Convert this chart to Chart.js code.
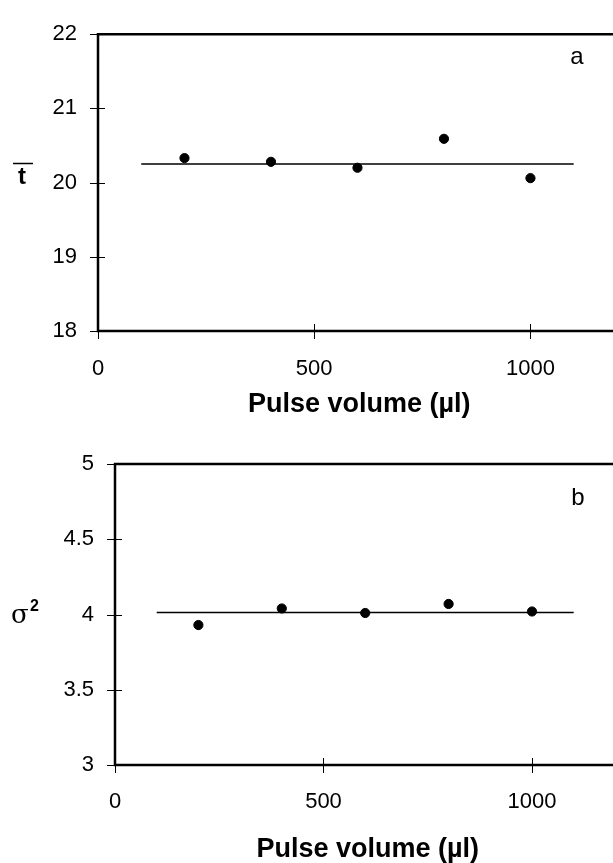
<!DOCTYPE html>
<html>
<head>
<meta charset="utf-8">
<script src="https://cdn.jsdelivr.net/npm/chart.js@4.4.1/dist/chart.umd.min.js"></script>
<style>
  html, body { margin: 0; background: #fff; overflow: hidden; }
  .panel { position: absolute; left: 0; width: 626px; }
</style>
</head>
<body>
<div class="panel" style="top:0;height:420px"><canvas id="chartA" width="626" height="420"></canvas></div>
<div class="panel" style="top:420px;height:443px"><canvas id="chartB" width="626" height="443"></canvas></div>
<script>
// pulse volumes (ul)
var volumes = [200, 400, 600, 800, 1000];
// panel a: mean residence time
var meanT = [20.33, 20.28, 20.20, 20.59, 20.06];
var meanTFit = 20.25;
// panel b: variance
var variance = [3.93, 4.04, 4.01, 4.07, 4.02];
var varianceFit = 4.013;
var fitRange = [100, 1100];
var xTicks = [0, 500, 1000];
var yTicksA = [18, 19, 20, 21, 22];
var yTicksB = [3, 3.5, 4, 4.5, 5];

Chart.defaults.font.family = '"Liberation Sans", Arial, sans-serif';
Chart.defaults.color = '#000';

function toPoints(xs, ys) {
    return xs.map(function (x, i) { return { x: x, y: ys[i] }; });
}

// frame on top/left/bottom plus ticks that cross the axes
var framePlugin = {
    id: 'frame',
    afterDraw: function (chart, args, opts) {
        var ctx = chart.ctx;
        var a = chart.chartArea;
        var xs = chart.scales.x, ys = chart.scales.y;
        ctx.save();
        ctx.strokeStyle = '#000';
        ctx.lineWidth = 1;
        opts.yTicks.forEach(function (v) {
            var y = Math.round(ys.getPixelForValue(v)) + 0.5;
            ctx.beginPath();
            ctx.moveTo(a.left - 8, y);
            ctx.lineTo(a.left + 7, y);
            ctx.stroke();
        });
        opts.xTicks.forEach(function (v) {
            var x = Math.round(xs.getPixelForValue(v)) + 0.5;
            ctx.beginPath();
            ctx.moveTo(x, a.bottom - 7);
            ctx.lineTo(x, a.bottom + 8);
            ctx.stroke();
        });
        ctx.lineWidth = 2.5;
        ctx.beginPath();
        ctx.moveTo(chart.width, a.top);
        ctx.lineTo(a.left, a.top);
        ctx.lineTo(a.left, a.bottom);
        ctx.lineTo(chart.width, a.bottom);
        ctx.stroke();

        // panel letter
        ctx.fillStyle = '#000';
        ctx.textAlign = 'center';
        ctx.textBaseline = 'middle';
        ctx.font = '24px "Liberation Sans", Arial, sans-serif';
        ctx.fillText(opts.letter, opts.letterX, opts.letterY);

        // y axis label
        if (opts.ylabel === 'tbar') {
            ctx.font = 'bold 24px "Liberation Sans", Arial, sans-serif';
            ctx.textBaseline = 'alphabetic';
            ctx.fillText('t', 22, 184);
            ctx.lineWidth = 1.5;
            ctx.beginPath();
            ctx.moveTo(13, 163.5);
            ctx.lineTo(33, 163.5);
            ctx.stroke();
        } else {
            ctx.textBaseline = 'alphabetic';
            ctx.textAlign = 'left';
            ctx.font = '26px "DejaVu Serif", serif';
            ctx.fillText('\u03C3', 11, 203);
            ctx.font = 'bold 16px "Liberation Sans", Arial, sans-serif';
            ctx.fillText('2', 30, 191);
        }
        ctx.restore();
    }
};

function makeChart(id, ys, fit, yMin, yMax, yTicks, o) {
    return new Chart(document.getElementById(id), {
        type: 'scatter',
        data: {
            datasets: [{
                data: toPoints(volumes, ys),
                backgroundColor: '#000',
                borderColor: '#000',
                pointRadius: 4.6,
                pointHoverRadius: 4.6
            }, {
                type: 'line',
                data: toPoints(fitRange, [fit, fit]),
                borderColor: '#000',
                borderWidth: 1.5,
                pointRadius: 0,
                fill: false
            }]
        },
        options: {
            responsive: false,
            animation: false,
            devicePixelRatio: 1,
            layout: { padding: { top: o.top, left: 0, right: 0, bottom: 0 } },
            plugins: {
                legend: { display: false },
                tooltip: { enabled: false },
                frame: o
            },
            scales: {
                x: {
                    type: 'linear',
                    min: 0,
                    max: o.xMax,
                    grid: { display: false, drawTicks: false },
                    border: { display: false },
                    afterBuildTicks: function (s) {
                        s.ticks = xTicks.map(function (v) { return { value: v }; });
                    },
                    ticks: {
                        autoSkip: false,
                        maxRotation: 0,
                        padding: o.xPad,
                        font: { size: 22 },
                        color: '#000',
                        callback: function (v) { return String(v); }
                    },
                    title: {
                        display: true,
                        text: 'Pulse volume (\u00B5l)',
                        font: { size: 27, weight: 'bold' },
                        color: '#000',
                        padding: { top: 0, bottom: o.titlePad }
                    },
                    afterFit: function (s) { s.height = o.xHeight; }
                },
                y: {
                    min: yMin,
                    max: yMax,
                    grid: { display: false, drawTicks: false },
                    border: { display: false },
                    afterBuildTicks: function (s) {
                        s.ticks = yTicks.map(function (v) { return { value: v }; });
                    },
                    ticks: {
                        padding: 21,
                        font: { size: 22 },
                        color: '#000',
                        callback: function (v) { return String(v); }
                    },
                    afterFit: function (s) { s.width = o.yWidth; }
                }
            }
        },
        plugins: [framePlugin]
    });
}

makeChart('chartA', meanT, meanTFit, 18, 22, yTicksA, {
    top: 21, xHeight: 89, yWidth: 98, xMax: 1208, xPad: 25, titlePad: -1,
    xTicks: xTicks, yTicks: yTicksA, letter: 'a', letterX: 577, letterY: 57, ylabel: 'tbar'
});
makeChart('chartB', variance, varianceFit, 3, 5, yTicksB, {
    top: 44, xHeight: 98, yWidth: 115, xMax: 1212, xPad: 24, titlePad: -3,
    xTicks: xTicks, yTicks: yTicksB, letter: 'b', letterX: 578, letterY: 78, ylabel: 'sigma'
});
</script>
</body>
</html>
